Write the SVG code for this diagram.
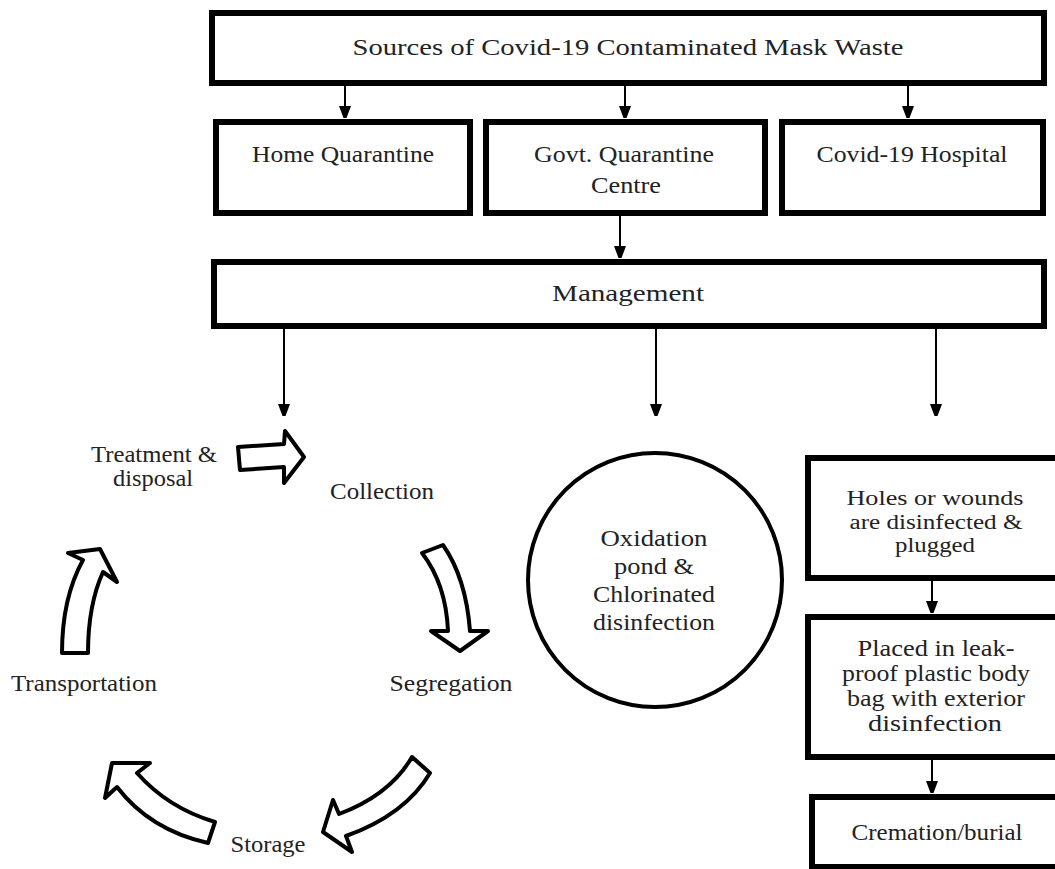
<svg xmlns="http://www.w3.org/2000/svg" width="1055" height="869" viewBox="0 0 1055 869">
<defs>
<style>
.box{fill:#fff;stroke:#000;stroke-width:6}
.circ{fill:#fff;stroke:#000;stroke-width:4}
.t{font-family:"Liberation Serif","Times New Roman",serif;font-size:23px;fill:#222;text-anchor:middle}
.s{font-size:20px}
.ln{stroke:#000;stroke-width:2;fill:none}
.blk{fill:#fff;stroke:#000;stroke-width:4;stroke-linejoin:round}
</style>
<marker id="ah" viewBox="0 0 12 16" refX="12" refY="6" markerWidth="12" markerHeight="16" markerUnits="userSpaceOnUse" orient="auto">
<path d="M0,0 L16,6 L0,12 Z" fill="#000"/>
</marker>
</defs>
<rect width="1055" height="869" fill="#fff"/>

<g id="connectors">
<line class="ln" x1="345" y1="84" x2="345" y2="118" marker-end="url(#ah)"/>
<line class="ln" x1="625" y1="84" x2="625" y2="118" marker-end="url(#ah)"/>
<line class="ln" x1="908" y1="84" x2="908" y2="118" marker-end="url(#ah)"/>
<line class="ln" x1="620" y1="214" x2="620" y2="258" marker-end="url(#ah)"/>
<line class="ln" x1="284" y1="327" x2="284" y2="416" marker-end="url(#ah)"/>
<line class="ln" x1="656" y1="327" x2="656" y2="416" marker-end="url(#ah)"/>
<line class="ln" x1="936" y1="327" x2="936" y2="416" marker-end="url(#ah)"/>
<line class="ln" x1="932" y1="579" x2="932" y2="613" marker-end="url(#ah)"/>
<line class="ln" x1="932" y1="758" x2="932" y2="793" marker-end="url(#ah)"/>
</g>

<g id="source">
<rect class="box" x="212" y="13" width="832" height="70"/>
<text class="t" x="628" y="55" textLength="551" lengthAdjust="spacingAndGlyphs">Sources of Covid-19 Contaminated Mask Waste</text>
</g>
<g id="home">
<rect class="box" x="216" y="122" width="254" height="91"/>
<text class="t" x="343" y="162" textLength="182" lengthAdjust="spacingAndGlyphs">Home Quarantine</text>
</g>
<g id="govt">
<rect class="box" x="486" y="122" width="279" height="91"/>
<text class="t" x="624" y="162" textLength="180" lengthAdjust="spacingAndGlyphs">Govt. Quarantine</text>
<text class="t" x="626" y="193" textLength="70" lengthAdjust="spacingAndGlyphs">Centre</text>
</g>
<g id="hospital">
<rect class="box" x="782" y="122" width="261" height="91"/>
<text class="t" x="912" y="162" textLength="191" lengthAdjust="spacingAndGlyphs">Covid-19 Hospital</text>
</g>
<g id="management">
<rect class="box" x="214" y="262" width="830" height="64"/>
<text class="t" x="628" y="301" textLength="152" lengthAdjust="spacingAndGlyphs">Management</text>
</g>

<g id="cycle">
<path class="blk" d="M238,447 L284,444 L285,431 L304,457 L284,483 L284,467 L240,470 Z"/>
<path class="blk" d="M422,553 L443,545 Q466,578 470,631 L488,631 L460,651 L431,631 L448,631 Q446,584 422,553 Z"/>
<path class="blk" d="M412,757 L430,773 Q405,815 346,836 L352,852 L323,832 L333,800 L339,814 Q390,795 412,757 Z"/>
<path class="blk" d="M112,763 L150,763 L137,773 Q168,808 215,822 L208,843 Q150,830 117,787 L105,798 Z"/>
<path class="blk" d="M100,549 L117,582 L103,572 Q88,605 88,653 L62,653 Q62,598 83,560 L68,553 Z"/>
<text class="t" x="154" y="462" textLength="126" lengthAdjust="spacingAndGlyphs">Treatment &amp;</text>
<text class="t" x="153" y="486" textLength="80" lengthAdjust="spacingAndGlyphs">disposal</text>
<text class="t" x="382" y="499" textLength="104" lengthAdjust="spacingAndGlyphs">Collection</text>
<text class="t" x="451" y="691" textLength="123" lengthAdjust="spacingAndGlyphs">Segregation</text>
<text class="t" x="268" y="852" textLength="75" lengthAdjust="spacingAndGlyphs">Storage</text>
<text class="t" x="84" y="691" textLength="146" lengthAdjust="spacingAndGlyphs">Transportation</text>
</g>

<g id="oxidation">
<circle class="circ" cx="655" cy="580" r="127"/>
<text class="t" x="654" y="546" textLength="107" lengthAdjust="spacingAndGlyphs">Oxidation</text>
<text class="t" x="654" y="574" textLength="80" lengthAdjust="spacingAndGlyphs">pond &amp;</text>
<text class="t" x="654" y="602" textLength="122" lengthAdjust="spacingAndGlyphs">Chlorinated</text>
<text class="t" x="654" y="630" textLength="122" lengthAdjust="spacingAndGlyphs">disinfection</text>
</g>

<g id="holes">
<rect class="box" x="808" y="458" width="260" height="120"/>
<text class="t s" x="935" y="505" textLength="177" lengthAdjust="spacingAndGlyphs">Holes or wounds</text>
<text class="t s" x="936" y="529" textLength="173" lengthAdjust="spacingAndGlyphs">are disinfected &amp;</text>
<text class="t s" x="935" y="552" textLength="80" lengthAdjust="spacingAndGlyphs">plugged</text>
</g>
<g id="bodybag">
<rect class="box" x="808" y="617" width="260" height="140"/>
<text class="t" x="936" y="656" textLength="157" lengthAdjust="spacingAndGlyphs">Placed in leak-</text>
<text class="t" x="936" y="681" textLength="188" lengthAdjust="spacingAndGlyphs">proof plastic body</text>
<text class="t" x="936" y="706" textLength="178" lengthAdjust="spacingAndGlyphs">bag with exterior</text>
<text class="t" x="935" y="731" textLength="134" lengthAdjust="spacingAndGlyphs">disinfection</text>
</g>
<g id="cremation">
<rect class="box" x="812" y="797" width="260" height="70"/>
<text class="t" x="937" y="840" textLength="171" lengthAdjust="spacingAndGlyphs">Cremation/burial</text>
</g>
</svg>
